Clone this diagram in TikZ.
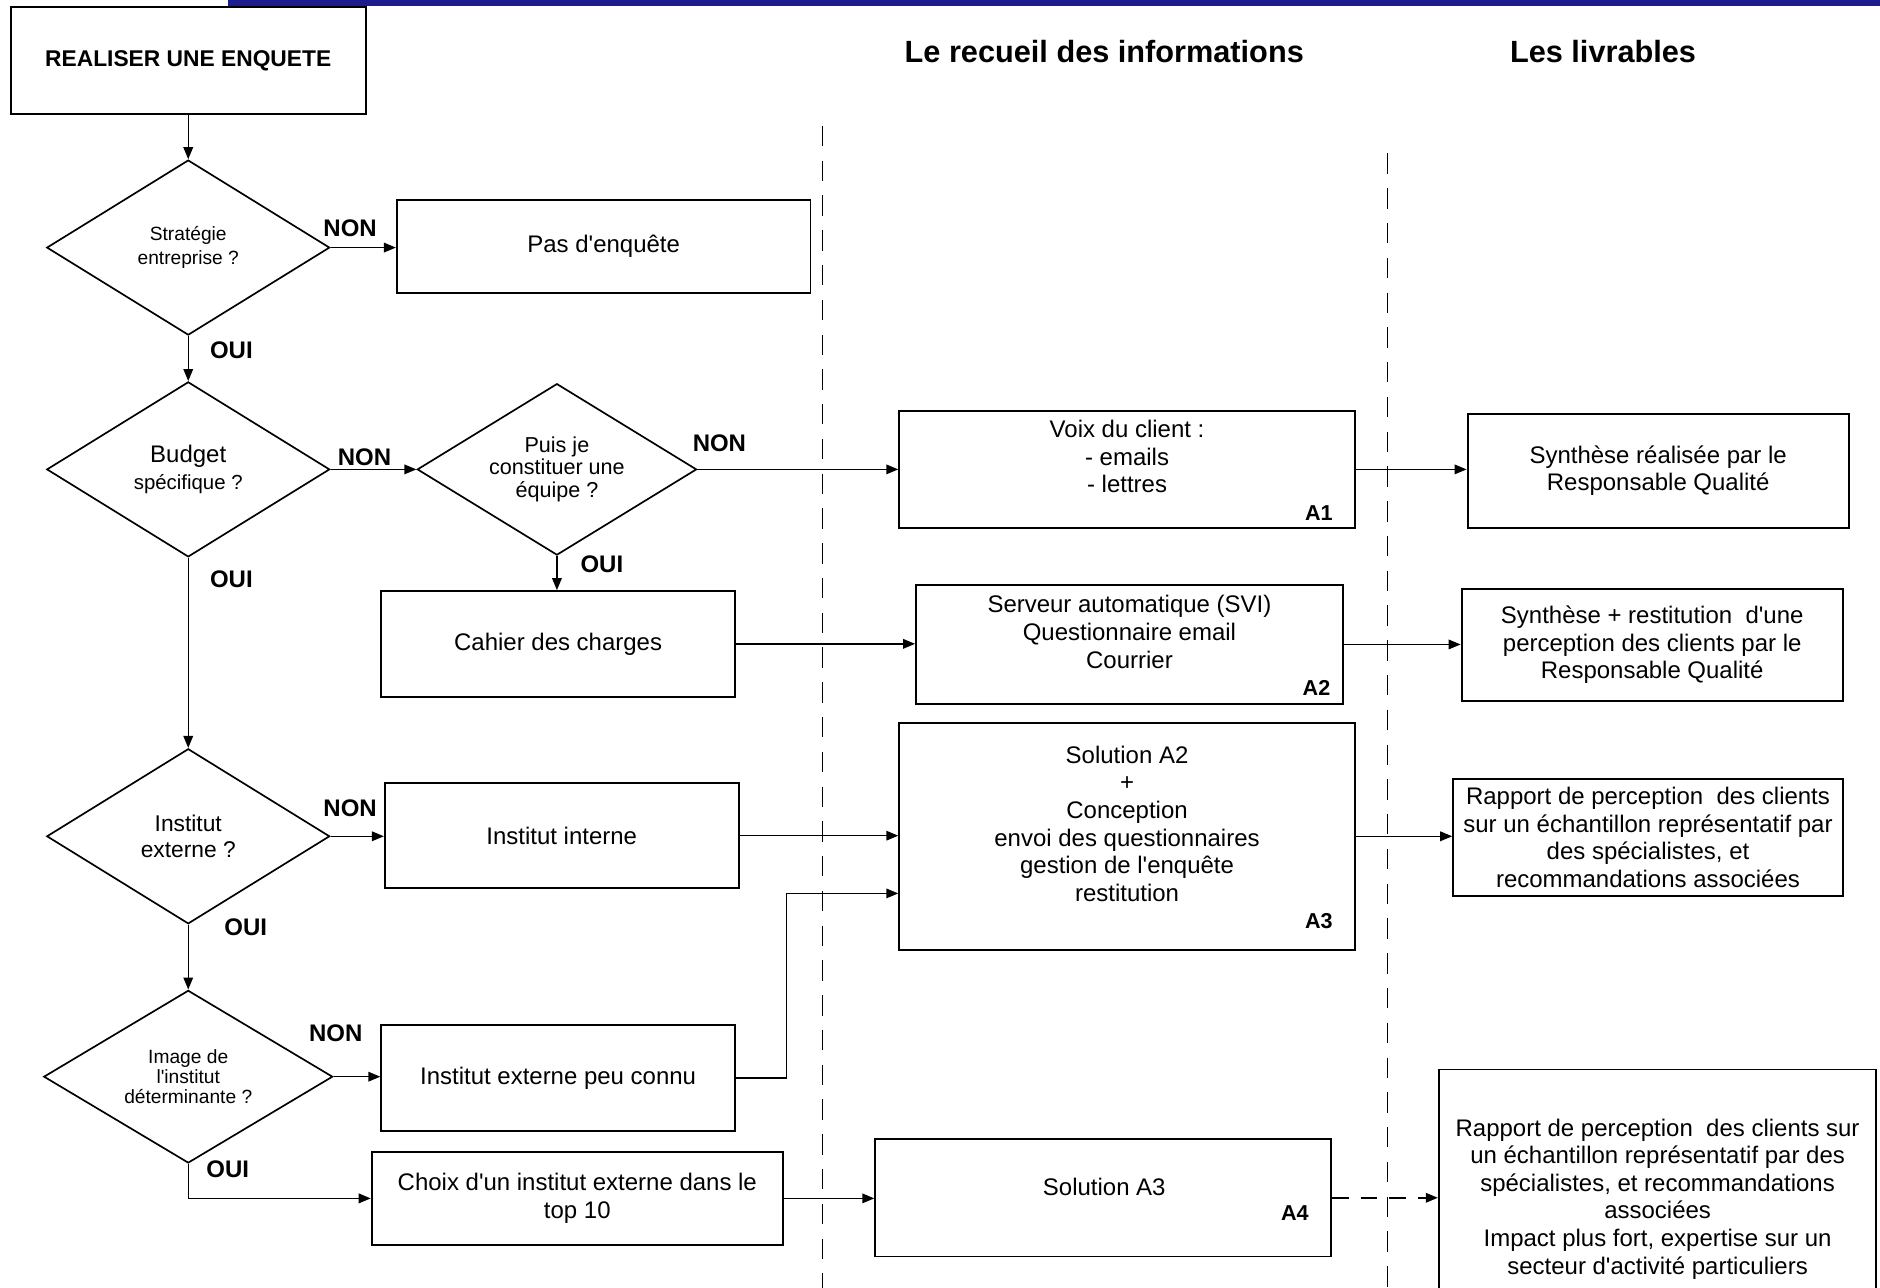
\documentclass[tikz,border=0pt]{standalone}
\usepackage{fontspec}
\setmainfont{Liberation Sans}[Ligatures=TeXOff]
\usetikzlibrary{shapes.geometric,arrows.meta,calc}
\definecolor{barblue}{RGB}{28,28,140}

\begin{document}
\begin{tikzpicture}[x=0.5pt,y=-0.5pt]
    \useasboundingbox (0,0) rectangle (1568,1074);
    \begin{scope}
        \tikzset{
            flow box/.style={draw, line width=0.8pt, inner sep=2pt, align=center, font=\fontsize{10}{11.5}\selectfont},
            box text/.style={align=center, font=\fontsize{10}{11.5}\selectfont},
            choice/.style={draw, diamond, aspect=1.6, line width=0.7pt, inner sep=0pt, minimum width=118pt, minimum height=73pt, align=center, font=\fontsize{8}{10}\selectfont},
            answer label/.style={font=\bfseries\fontsize{10}{12}\selectfont},
            box tag/.style={font=\bfseries\fontsize{9}{11}\selectfont},
            col title/.style={font=\bfseries\fontsize{12.8}{15}\selectfont},
            flow arrow/.style={line width=0.6pt, -{Triangle[length=5pt,width=4pt]}},
            lane line/.style={line width=0.5pt, dash pattern=on 8.5pt off 6pt}
        }
        % Top bar
        \fill [barblue] (190,0) rectangle (1568,5);

        % Draw the start box and the column headings
        \node [flow box, minimum width=148pt, minimum height=44.5pt, font=\bfseries\fontsize{9.5}{11}\selectfont] (start) at (157,50.5) {REALISER UNE ENQUETE};
        \node [col title] (recueil) at (921,43) {Le recueil des informations};
        \node [col title] (livrables) at (1337,43) {Les livrables};

        % Dashed separators
        \draw [lane line] (686,105) -- (686,1074);
        \draw [lane line] (1157,128) -- (1157,1074);

        % Decisions
        \node [choice] (strat) at (157,206.5) {Stratégie\\entreprise ?};
        \node [choice, font=\fontsize{8.5}{11.5}\selectfont] (budget) at (157,391.5) {{\fontsize{10}{11.5}\selectfont Budget}\\spécifique ?};
        \node [choice, minimum width=116.5pt, minimum height=71.5pt, font=\fontsize{9}{9.5}\selectfont] (equipe) at (464.5,391.5) {Puis je\\constituer une\\équipe ?};
        \node [choice, font=\fontsize{9.5}{10.5}\selectfont] (institut) at (157,697.5) {Institut\\externe ?};
        \node [choice, minimum width=120.5pt, minimum height=72pt, font=\fontsize{8}{8.5}\selectfont] (image) at (157,898) {Image de\\l'institut\\déterminante ?};

        % Boxes on the left
        \node [flow box, minimum width=172.5pt, minimum height=38.5pt] (pas) at (503.5,205.5) {Pas d'enquête};
        \node [flow box, minimum width=147.5pt, minimum height=44pt] (cahier) at (465.5,537) {Cahier des charges};
        \node [flow box, minimum width=147.5pt, minimum height=44pt] (interne) at (468.5,697) {Institut interne};
        \node [flow box, minimum width=147.5pt, minimum height=44pt] (peuconnu) at (465.5,899) {Institut externe peu connu};
        \node [flow box, minimum width=171.5pt, minimum height=38.5pt] (top) at (481.5,999.5) {Choix d'un institut externe dans le\\top 10};

        % Collecting the information
        \node [flow box, minimum width=190pt, minimum height=48.5pt] (A1) at (940,391.5) {};
        \node [box text] (A1txt) at (940,381) {Voix du client :\\- emails\\- lettres};
        \node [box tag] (A1tag) at (1100,428) {A1};
        \node [flow box, minimum width=178pt, minimum height=49.5pt] (A2) at (942,537.5) {};
        \node [box text] (A2txt) at (942,527) {Serveur automatique (SVI)\\Questionnaire email\\Courrier};
        \node [box tag] (A2tag) at (1098,574) {A2};
        \node [flow box, minimum width=190pt, minimum height=94.5pt] (A3) at (940,697.5) {};
        \node [box text] (A3txt) at (940,687) {Solution A2\\+\\Conception\\envoi des questionnaires\\gestion de l'enquête\\restitution};
        \node [box tag] (A3tag) at (1100,768) {A3};
        \node [flow box, minimum width=190pt, minimum height=49pt] (A4) at (920,999) {};
        \node [box text] (A4txt) at (921,990) {Solution A3};
        \node [box tag] (A4tag) at (1080,1012) {A4};

        % The deliverables
        \node [flow box, minimum width=159pt, minimum height=47.5pt] (synth) at (1383,392.5) {Synthèse réalisée par le\\Responsable Qualité};
        \node [flow box, minimum width=159pt, minimum height=47pt] (restit) at (1378,538) {Synthèse + restitution\ \ d'une\\perception des clients par le\\Responsable Qualité};
        \node [flow box, minimum width=162.5pt, minimum height=48.5pt] (rapport) at (1374.5,698.5) {Rapport de perception\ \ des clients\\sur un échantillon représentatif par\\des spécialistes, et\\recommandations associées};
        \node [flow box, minimum width=182.5pt, minimum height=108pt] (rapportplus) at (1382.5,1000) {Rapport de perception\ \ des clients sur\\un échantillon représentatif par des\\spécialistes, et recommandations\\associées\\Impact plus fort, expertise sur un\\secteur d'activité particuliers};

        % Connectors
        \draw [flow arrow] (start.south) -- (strat.north);
        \draw [flow arrow] (strat.east) -- (strat.east -| pas.west);
        \draw [flow arrow] (strat.south) -- (budget.north);
        \draw [flow arrow] (budget.east) -- (equipe.west);
        \draw [flow arrow] (equipe.east) -- (equipe.east -| A1.west);
        \draw [flow arrow] (equipe.south) -- (equipe.south |- cahier.north);
        \draw [flow arrow] (cahier.east) -- (cahier.east -| A2.west);
        \draw [flow arrow] (A1.east) -- (A1.east -| synth.west);
        \draw [flow arrow] (A2.east) -- (A2.east -| restit.west);
        \draw [flow arrow] (budget.south) -- (institut.north);
        \draw [flow arrow] (institut.east) -- (institut.east -| interne.west);
        \draw [flow arrow] (interne.east) -- (interne.east -| A3.west);
        \draw [flow arrow] (A3.east) -- (A3.east -| rapport.west);
        \draw [flow arrow] (peuconnu.east) -- ++(42,0) |- ($(A3.north west)!0.75!(A3.south west)$);
        \draw [flow arrow] (institut.south) -- (image.north);
        \draw [flow arrow] (image.east) -- (image.east -| peuconnu.west);
        \draw [flow arrow] (image.south) |- (top.west);
        \draw [flow arrow] (top.east) -- (top.east -| A4.west);
        \draw [flow arrow, dash pattern=on 7pt off 5pt] (A4.east) -- (A4.east -| rapportplus.west);

        % Label each answer
        \node [answer label] (non1) at (292,190) {NON};
        \node [answer label] (oui1) at (193,292) {OUI};
        \node [answer label] (non2) at (304,381) {NON};
        \node [answer label] (non3) at (600,370) {NON};
        \node [answer label] (oui3) at (502,471) {OUI};
        \node [answer label] (oui2) at (193,483) {OUI};
        \node [answer label] (non4) at (292,674) {NON};
        \node [answer label] (oui4) at (205,773) {OUI};
        \node [answer label] (non5) at (280,862) {NON};
        \node [answer label] (oui5) at (190,975) {OUI};
    \end{scope}
\end{tikzpicture}
\end{document}
